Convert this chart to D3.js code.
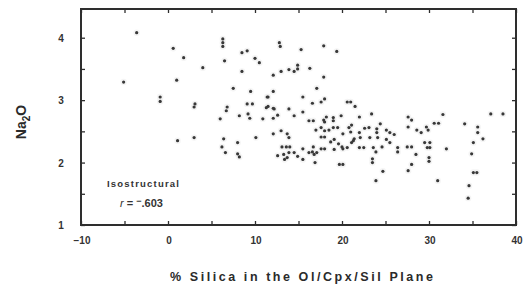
<!DOCTYPE html>
<html><head><meta charset="utf-8">
<script src="https://cdn.jsdelivr.net/npm/d3@7"></script>
<style>
html,body{margin:0;padding:0;background:#fff;}
svg{display:block;font-family:"Liberation Sans",Arial,Helvetica,sans-serif;}
</style></head>
<body><svg id="chart" width="530" height="289"></svg>
<script>
const silica = [-5.1,-3.6,-0.9,-0.9,0.6,1.0,1.8,1.1,3.0,3.1,3.0,4.0,6.3,6.3,6.3,6.5,6.0,6.8,6.7,6.4,6.2,6.6,
7.5,8.0,8.0,8.2,8.2,8.5,9.1,8.5,9.1,9.7,9.2,9.4,9.5,10.0,10.5,10.1,11.5,11.5,10.9,12.1,12.1,12.1,12.2,12.6,12.8,12.9,
12.1,13.0,13.0,13.7,13.9,13.1,13.6,14.0,12.6,13.3,13.9,13.4,13.7,13.9,13.9,14.5,14.9,14.9,14.5,14.5,14.9,15.3,15.5,15.5,
15.5,15.5,16.2,16.6,16.7,16.9,16.8,17.1,16.2,16.7,16.3,16.6,17.0,17.1,17.6,17.6,17.6,18.0,17.6,18.0,17.9,17.9,17.9,18.0,
18.0,18.0,18.5,18.2,19.0,19.0,19.0,19.5,19.1,19.1,19.4,19.9,20.0,20.1,20.1,19.7,20.1,20.6,21.0,21.5,20.8,21.1,21.0,21.4,
21.1,20.6,22.0,22.0,22.1,22.0,22.5,23.1,23.2,23.4,23.5,23.5,23.9,23.6,24.0,24.0,24.1,24.6,23.9,24.7,25.1,25.5,25.1,25.5,
26.4,26.4,27.5,28.0,27.6,28.0,27.6,28.5,28.0,27.6,28.6,29.1,29.7,29.9,29.5,30.1,29.8,30.1,30.0,30.0,30.6,31.1,31.6,32.0,
31.0,34.1,35.6,35.6,36.2,35.1,34.9,35.1,35.5,34.6,34.5,37.1,38.5,11.4,12.1,11.3,22.6,21.3,24.4,26.0,19.6,18.7];
const na2o = [3.29,4.08,3.05,2.98,3.83,3.32,3.68,2.35,2.40,2.94,2.89,3.52,3.98,3.92,3.86,3.63,2.70,2.89,2.83,2.38,2.25,2.16,
3.19,2.32,2.14,2.09,2.75,3.76,3.79,3.46,2.94,2.94,2.78,2.71,3.14,3.67,3.60,2.40,3.05,2.90,2.70,2.71,3.40,3.14,2.86,2.76,3.92,3.86,
2.46,3.46,2.51,2.46,2.40,2.25,2.25,2.25,2.11,2.13,2.16,2.05,2.08,3.49,2.86,3.46,3.56,3.50,2.75,2.16,2.10,3.81,3.05,2.81,
2.22,2.05,2.16,2.17,2.25,2.00,2.13,2.16,2.67,2.67,3.51,2.95,2.52,3.19,2.97,2.56,2.41,2.41,2.22,2.22,3.87,3.37,2.68,2.65,
3.02,2.51,2.52,2.73,2.72,2.67,2.56,2.56,2.37,2.21,3.78,2.75,2.25,2.22,2.46,1.97,1.97,2.97,2.97,2.90,2.56,2.60,2.49,2.38,
2.32,2.24,2.73,2.48,2.40,2.24,2.24,2.56,2.40,2.78,2.06,2.00,2.17,2.24,2.54,2.48,2.40,2.25,1.71,1.86,2.52,2.48,2.37,2.32,
2.24,2.17,2.25,2.25,2.73,2.68,2.57,2.13,1.97,1.87,2.52,2.48,2.57,2.52,2.32,2.32,2.24,2.24,2.08,2.02,2.63,2.63,2.77,2.22,
1.71,2.62,2.57,2.48,2.38,2.32,2.14,1.84,1.84,1.63,1.43,2.78,2.78,3.05,2.87,2.88,2.55,2.35,2.62,2.45,2.30,2.33];
const xTicks = [-10,-5,0,5,10,15,20,25,30,35,40];
const xLabels = [-10,0,10,20,30,40];
const yTicks = [1,1.5,2,2.5,3,3.5,4];
const yLabels = [1,2,3,4];
const xTitle = "% Silica in the Ol/Cpx/Sil Plane";
const annot1 = "Isostructural";

const svg = d3.select("#chart");
const L=81, R=516, T=9, B=225;
const x = d3.scaleLinear().domain([-10,40]).range([L,R]);
const y = d3.scaleLinear().domain([1,4.46]).range([B,T]);
const ink = "#2e2e2e";

// points
const pts = silica.map((s,i)=>({s, n:na2o[i]}));
svg.append("g").selectAll("circle").data(pts).join("circle")
  .attr("cx",d=>x(d.s)).attr("cy",d=>y(d.n)).attr("r",3.2)
  .attr("fill","#ececec").attr("opacity",0.6);
svg.append("g").selectAll("circle").data(pts).join("circle")
  .attr("cx",d=>x(d.s)).attr("cy",d=>y(d.n)).attr("r",1.6)
  .attr("fill","#383838");

// axes with inward ticks
const tl = 4;
svg.append("g").attr("transform",`translate(0,${B})`)
  .call(d3.axisTop(x).tickValues(xTicks).tickSize(tl).tickFormat(""))
  .call(g=>{g.select(".domain").remove();});
svg.append("g").attr("transform",`translate(0,${T})`)
  .call(d3.axisBottom(x).tickValues(xTicks).tickSize(tl).tickFormat(""))
  .call(g=>{g.select(".domain").remove();});
svg.append("g").attr("transform",`translate(${L},0)`)
  .call(d3.axisRight(y).tickValues(yTicks).tickSize(tl).tickFormat(""))
  .call(g=>{g.select(".domain").remove();});
svg.append("g").attr("transform",`translate(${R},0)`)
  .call(d3.axisLeft(y).tickValues(yTicks).tickSize(tl).tickFormat(""))
  .call(g=>{g.select(".domain").remove();});
svg.selectAll(".tick line").attr("stroke",ink).attr("stroke-width",1.3);

// frame
svg.append("rect").attr("x",L).attr("y",T).attr("width",R-L).attr("height",B-T)
  .attr("fill","none").attr("stroke",ink).attr("stroke-width",2);

// tick labels
svg.append("g").selectAll("text").data(xLabels).join("text")
  .attr("x",d=>x(d)+1).attr("y",244).attr("text-anchor","middle")
  .attr("font-size",10).attr("font-weight","bold").attr("fill","#333")
  .text(d=>d<0?"\u2212"+Math.abs(d):d);
svg.append("g").selectAll("text").data(yLabels).join("text")
  .attr("x",61).attr("y",d=>y(d)+4).attr("text-anchor","middle")
  .attr("font-size",10).attr("font-weight","bold").attr("fill","#333")
  .text(d=>d);

// axis titles
svg.append("text").attr("x",170).attr("y",281)
  .attr("font-size",12.5).attr("font-weight","bold").attr("fill","#2a2a2a")
  .attr("textLength",263).attr("lengthAdjust","spacing")
  .text(xTitle);
const yt = svg.append("text").attr("transform","translate(26,122) rotate(-90)")
  .attr("text-anchor","middle").attr("font-size",14).attr("font-weight","bold").attr("fill","#2a2a2a");
yt.append("tspan").text("Na");
yt.append("tspan").attr("font-size",10).attr("dy",4).text("2");
yt.append("tspan").attr("dy",-4).text("O");

// annotation
svg.append("text").attr("x",107).attr("y",187)
  .attr("font-size",9.5).attr("font-weight","bold").attr("fill","#333")
  .attr("textLength",72).attr("lengthAdjust","spacing").text(annot1);
const r = svg.append("text").attr("x",120).attr("y",207)
  .attr("font-size",11).attr("font-weight","bold").attr("fill","#333");
r.append("tspan").attr("font-style","italic").attr("font-weight","normal").text("r");
r.append("tspan").text(" = ");
r.append("tspan").attr("dy",-3).attr("font-size",9).text("\u2212");
r.append("tspan").attr("dy",3).text(".603");
</script></body></html>
